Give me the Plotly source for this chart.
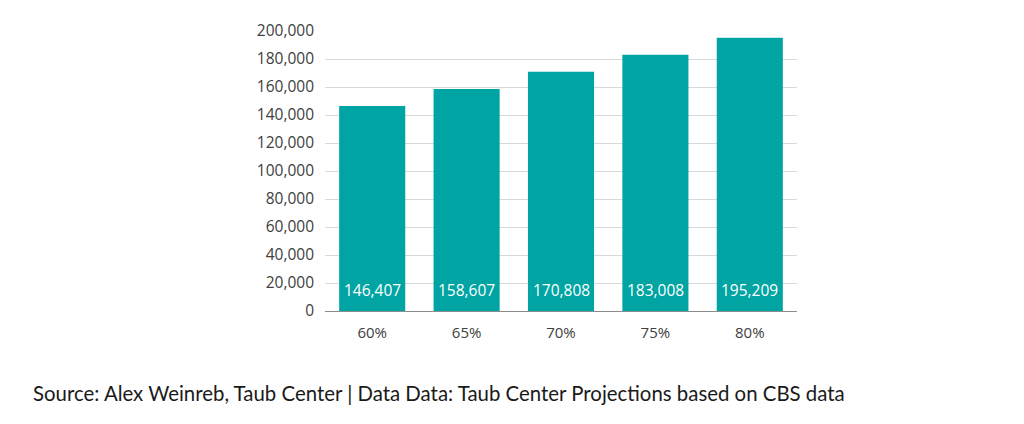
import plotly.graph_objects as go

categories = ["60%", "65%", "70%", "75%", "80%"]
values = [146407, 158607, 170808, 183008, 195209]
y_ticks = list(range(0, 200001, 20000))
y_tick_labels = [f"{v:,}" for v in y_ticks]

bar_color = "#00A4A2"

fig = go.Figure()
fig.add_trace(go.Bar(
    x=categories, y=values, marker=dict(color=bar_color, line=dict(width=0)),
    hoverinfo="x+y",
))

for c, v in zip(categories, values):
    fig.add_annotation(
        x=c, y=0, text=f"{v:,}", showarrow=False, yanchor="bottom", yshift=8,
        font=dict(family="Open Sans", size=15.5, color="white"),
    )

fig.add_annotation(
    xref="paper", yref="paper", x=-0.623, y=-0.242, xanchor="left", yanchor="top",
    text="Source: Alex Weinreb, Taub Center | Data Data: Taub Center Projections based on CBS data",
    showarrow=False, font=dict(family="Lato", size=20.4, color="#1a1a1a"),
)

fig.update_layout(
    width=1024, height=424,
    margin=dict(l=317, r=235, t=23, b=121),
    paper_bgcolor="white", plot_bgcolor="white",
    bargap=0.3, showlegend=False,
    font=dict(family="Open Sans", size=14, color="#404040"),
)
fig.update_yaxes(
    range=[0, 200000], tickvals=y_ticks, ticktext=y_tick_labels,
    showgrid=True, gridcolor="#d9d9d9", gridwidth=1, zeroline=False,
    showline=False, ticks="", ticklabelstandoff=10,
    tickfont=dict(size=15.5, color="#404040"),
)
fig.update_xaxes(
    showline=True, linecolor="#8c8c8c", linewidth=1, ticks="",
    ticklabelstandoff=8, tickfont=dict(size=15, color="#404040"),
)

fig.write_html("out.html")
